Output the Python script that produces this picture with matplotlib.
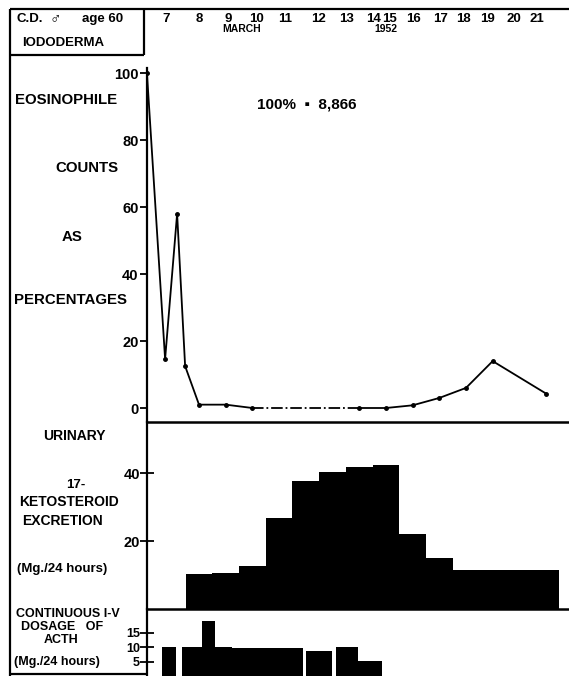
import matplotlib.pyplot as plt
from matplotlib.transforms import blended_transform_factory

plt.rcParams['font.family'] = ['Liberation Sans', 'DejaVu Sans']
plt.rcParams['font.weight'] = 'bold'

# eosinophile counts as % of 8,866 (x = day of March 1952)
eos_day = [6.05, 6.73, 7.18, 7.48, 8, 9, 10, 14, 15, 16, 17, 18, 19, 21]
eos_pct = [100, 14.6, 58, 12.5, 1, 1, 0, 0, 0, 0.8, 3, 6, 14, 4.3]

# urinary 17-ketosteroid excretion, mg/24 h
keto_day = [8, 9, 10, 11, 12, 13, 14, 15, 16, 17, 18, 19, 20, 21]
keto_mg = [10.4, 10.6, 12.6, 26.8, 37.9, 40.3, 41.8, 42.4, 22.1, 15.0,
           11.5, 11.5, 11.5, 11.5]

# continuous i-v ACTH dosage, mg/24 h
acth_start = [6.60, 7.35, 8.10, 8.60, 9.22, 12.00, 13.13, 13.96]
acth_end = [7.14, 8.10, 8.60, 9.22, 11.90, 12.97, 13.96, 14.85]
acth_mg = [10, 10, 19.1, 9.9, 9.6, 8.8, 10, 5.2]

# hand-lettered day labels along the top
hdr_days = [6.76, 8.0, 9.09, 10.17, 11.22, 12.46, 13.51, 14.52, 15.15,
            16.05, 17.06, 17.89, 18.82, 19.80, 20.66]
hdr_labels = ['7', '8', '9', '10', '11', '12', '13', '14', '15', '16',
              '17', '18', '19', '20', '21']

W, H = 569, 676
XLIM = (6.052, 21.858)

fig = plt.figure(figsize=(W / 100, H / 100), dpi=100)


def box(top, bottom, left=147):
    return [left / W, 1 - bottom / H, (W - left) / W, (bottom - top) / H]


# overlay in pixel coords for labels and frame lines
ov = fig.add_axes([0, 0, 1, 1])
ov.set_xlim(0, W)
ov.set_ylim(H, 0)
ov.axis('off')

# --- eosinophile panel
ax1 = fig.add_axes(box(55, 422))
ax1.plot(eos_day[:7], eos_pct[:7], 'k-', lw=1.3)
ax1.plot(eos_day[6:8], eos_pct[6:8], 'k-.', lw=1.3)
ax1.plot(eos_day[7:], eos_pct[7:], 'k-', lw=1.3)
ax1.plot(eos_day, eos_pct, 'ko', ms=2.5)
ax1.set_xlim(*XLIM)
ax1.set_ylim(-4.18, 105.4)
ax1.set_yticks([0, 20, 40, 60, 80, 100])
ax1.set_xticks([])
ax1.tick_params(axis='y', direction='out', length=5, width=1.3, labelsize=10.5, pad=1)
for s in ['top', 'right']:
    ax1.spines[s].set_visible(False)
ax1.spines['left'].set_bounds(-4.18, 101.5)
ax1.spines['left'].set_linewidth(1.6)
ax1.spines['bottom'].set_linewidth(1.8)
ax1.text(0.26, 0.865, '100%  \u25aa  8,866', transform=ax1.transAxes,
         fontsize=11, va='center')

# --- ketosteroid panel
ax2 = fig.add_axes(box(422, 609))
ax2.patch.set_alpha(0)
ax2.bar(keto_day, keto_mg, width=1.0, color='black', align='center')
ax2.set_xlim(*XLIM)
ax2.set_ylim(0, 55.2)
ax2.set_yticks([20, 40])
ax2.set_xticks([])
ax2.tick_params(axis='y', direction='inout', length=10, width=1.3, labelsize=10.5, pad=0)
for s in ['top', 'right']:
    ax2.spines[s].set_visible(False)
ax2.spines['left'].set_linewidth(1.6)
ax2.spines['bottom'].set_linewidth(1.8)

# --- ACTH panel
ax3 = fig.add_axes(box(609, 676))
ax3.patch.set_alpha(0)
widths = [e - s for s, e in zip(acth_start, acth_end)]
ax3.bar(acth_start, acth_mg, width=widths, align='edge', color='black')
ax3.set_xlim(*XLIM)
ax3.set_ylim(0, 23.2)
ax3.set_yticks([5, 10, 15])
ax3.set_xticks([])
ax3.tick_params(axis='y', direction='inout', length=10, width=1.3, labelsize=9, pad=0)
for s in ['top', 'right', 'bottom']:
    ax3.spines[s].set_visible(False)
ax3.spines['left'].set_linewidth(1.6)

# --- header
hx = blended_transform_factory(ax1.transData, ov.transData)
for d, lab in zip(hdr_days, hdr_labels):
    ov.text(d, 19, lab, transform=hx, fontsize=9.5, ha='center', va='center')
ov.text(9.6, 29, 'MARCH', transform=hx, fontsize=7.5, ha='center', va='center')
ov.text(15.0, 29, '1952', transform=hx, fontsize=7.5, ha='center', va='center')

# frame lines
lines = [((10, 569), (9, 9)), ((10, 10), (9, 676)), ((144, 144), (9, 55)),
         ((10, 144), (55, 55)), ((10, 147), (674, 674))]
for xs, ys in lines:
    ov.plot(xs, ys, color='black', lw=1.6, solid_capstyle='butt')

# left-hand labels
left_text = [
    ('C.D.', 17, 19, 9.5),
    ('\u2642', 50, 18, 11),
    ('age 60', 82, 19, 9.5),
    ('IODODERMA', 22, 43, 9.5),
    ('EOSINOPHILE', 15, 100, 10.8),
    ('COUNTS', 55, 168, 10.8),
    ('AS', 62, 237, 10.8),
    ('PERCENTAGES', 14, 300, 10.8),
    ('URINARY', 43, 436, 10),
    ('17-', 66, 485, 9.5),
    ('KETOSTEROID', 19, 502, 10),
    ('EXCRETION', 22, 521, 10),
    ('(Mg./24 hours)', 17, 569, 9.5),
    ('CONTINUOUS I-V', 16, 614, 9),
    ('DOSAGE   OF', 21, 627, 9),
    ('ACTH', 44, 640, 9),
    ('(Mg./24 hours)', 14, 662, 9),
]
for txt, x, y, fs in left_text:
    ov.text(x, y, txt, fontsize=fs, ha='left', va='center')

fig.savefig('out.png', dpi=100)
